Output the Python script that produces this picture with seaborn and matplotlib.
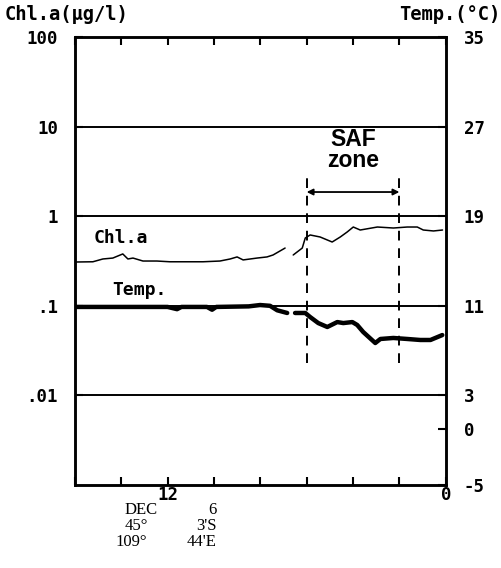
import matplotlib
matplotlib.use("Agg")
import matplotlib.pyplot as plt
import seaborn as sns
import pandas as pd

# values (x = hour of day, Dec 6)
chl_hour = [8.0, 8.78, 9.21, 9.64, 10.07, 10.29, 10.51, 10.94, 11.54, 12.10, 13.53,
            14.26, 14.70, 15.00, 15.26, 15.86, 16.29, 16.55, 17.07,
            17.42, 17.81, 17.94, 18.15, 18.58, 19.10, 19.45, 19.75, 20.01, 20.31,
            21.05, 21.74, 22.34, 22.77, 23.03, 23.47, 23.86]
chl_val = [0.308, 0.31, 0.333, 0.341, 0.379, 0.333, 0.341, 0.316, 0.316, 0.31, 0.31,
           0.316, 0.333, 0.351, 0.325, 0.341, 0.351, 0.369, 0.441,
           0.369, 0.441, 0.571, 0.617, 0.586, 0.515, 0.586, 0.667, 0.757, 0.701,
           0.757, 0.738, 0.757, 0.757, 0.701, 0.684, 0.701]
chl_seg = [0] * 19 + [1] * 17

temp_hour = [8.0, 10.0, 12.0, 12.41, 12.6, 13.7, 13.92, 14.1, 15.5, 15.99, 16.42, 16.73, 17.16,
             17.5, 17.94, 18.15, 18.5, 18.89, 19.32, 19.58, 19.97, 20.18, 20.44, 20.96,
             21.18, 21.74, 22.34, 22.9, 23.34, 23.85]
temp_val = [10.9, 10.9, 10.9, 10.7, 10.9, 10.9, 10.65, 10.9, 10.95, 11.07, 11.0, 10.6, 10.36,
            10.36, 10.36, 10.0, 9.46, 9.11, 9.55, 9.46, 9.55, 9.29, 8.66, 7.68,
            8.04, 8.13, 8.04, 7.95, 7.95, 8.39]
temp_seg = [0] * 13 + [1] * 17

chl_ticks = [100, 10, 1, 0.1, 0.01]
chl_labels = ["100", "10", "1", ".1", ".01"]
temp_ticks = [35, 27, 19, 11, 3, 0, -5]
hour_ticks = [8, 10, 12, 14, 16, 18, 20, 22, 24]
hour_labels = ["", "", "12", "", "", "", "", "", "0"]
saf_bounds = [18, 22]

chl_df = pd.DataFrame({"hour": chl_hour, "chl": chl_val, "seg": chl_seg})
temp_df = pd.DataFrame({"hour": temp_hour, "temp": temp_val, "seg": temp_seg})

sns.set_style("ticks")
plt.rcParams["font.family"] = ["DejaVu Sans Mono", "DejaVu Sans"]
for k in ["text.color", "axes.edgecolor", "axes.labelcolor", "xtick.color", "ytick.color"]:
    plt.rcParams[k] = "black"

mono = dict(family="DejaVu Sans Mono", weight="bold", size=12.5, color="black")

fig = plt.figure(figsize=(5.02, 5.68), dpi=100)
ax = fig.add_axes([0.149, 0.146, 0.739, 0.789])

sns.lineplot(data=chl_df, x="hour", y="chl", units="seg", estimator=None,
             color="black", linewidth=1.1, ax=ax)
ax.set_yscale("log")
ax.set_ylim(0.001, 100)
ax.set_xlim(8, 24)
for v in [10, 1, 0.1, 0.01]:
    ax.axhline(v, color="black", linewidth=1.4, zorder=1)

ax.set_yticks(chl_ticks)
ax.set_yticklabels(chl_labels, fontdict=mono)
ax.minorticks_off()
ax.set_xticks(hour_ticks)
ax.set_xticklabels(hour_labels, fontdict=mono)
ax.tick_params(axis="both", direction="in", length=6, width=1.5, top=True, pad=1)
ax.tick_params(axis="y", pad=12)
ax.set_xlabel("")
ax.set_ylabel("")

ax2 = ax.twinx()
sns.lineplot(data=temp_df, x="hour", y="temp", units="seg", estimator=None,
             color="black", linewidth=3.2, ax=ax2)
ax2.set_ylim(-5, 35)
ax2.set_yticks(temp_ticks)
ax2.set_yticklabels([str(t) for t in temp_ticks], fontdict=mono)
ax2.tick_params(axis="y", direction="in", length=6, width=1.5, pad=13)
ax2.set_ylabel("")
ax2.set_xlabel("")

for a in (ax, ax2):
    for s in a.spines.values():
        s.set_linewidth(1.8)
        s.set_color("black")
        s.set_visible(True)

# SAF zone
ax.vlines(saf_bounds, 0.023, 2.67, colors="black", linestyles=(0, (5, 4)), linewidth=1.4)
ax.annotate("", xy=(saf_bounds[0], 1.86), xytext=(saf_bounds[1], 1.86),
            arrowprops=dict(arrowstyle="<|-|>", color="black", lw=1.3,
                            mutation_scale=9, shrinkA=0, shrinkB=0))
ax.text(20.0, 3.1, "SAF\nzone", ha="center", va="bottom", fontsize=16.5,
        family="Liberation Sans", weight="bold", linespacing=0.9, color="black")

# series labels
ax.text(8.8, 0.45, "Chl.a", fontdict=dict(mono, size=13), ha="left", va="bottom")
ax.text(9.6, 0.12, "Temp.", fontdict=dict(mono, size=13), ha="left", va="bottom")

# headers
fig.text(5 / 502, 1 - 14 / 568, "Chl.a(\u00b5g/l)", fontdict=dict(mono, size=13.5),
         ha="left", va="center")
fig.text(500 / 502, 1 - 14 / 568, "Temp.(\u00b0C)", fontdict=dict(mono, size=13.5),
         ha="right", va="center")

# station info under the 12 o'clock tick
pos = [("DEC", "6", 510), ("45\u00b0", "3'S", 526), ("109\u00b0", "44'E", 542)]
for left, right, y in pos:
    xl = 125 if left != "109\u00b0" else 115
    fig.text(xl / 502, 1 - y / 568, left, ha="left", va="center",
             family="Liberation Serif", fontsize=12, color="black")
    fig.text(217 / 502, 1 - y / 568, right, ha="right", va="center",
             family="Liberation Serif", fontsize=12, color="black")

fig.savefig("out.png", dpi=100)
